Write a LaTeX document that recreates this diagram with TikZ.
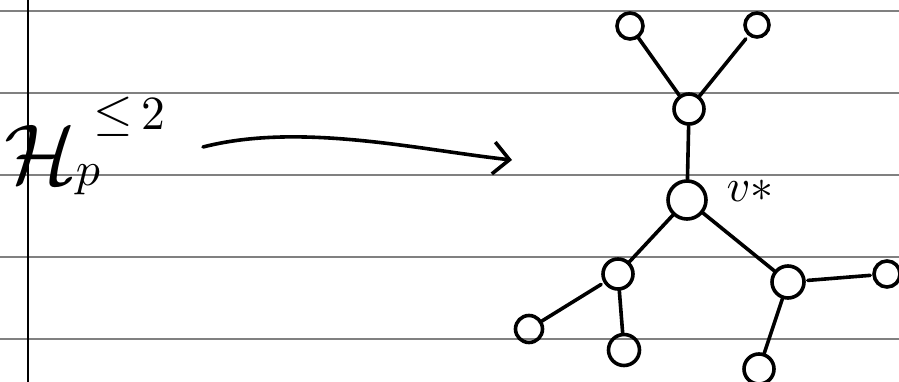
\documentclass[tikz,border=0pt]{standalone}
\usetikzlibrary{arrows.meta}
\definecolor{rule}{RGB}{128,128,128}
\definecolor{ink}{RGB}{0,0,0}
\begin{document}
\begin{tikzpicture}[x=1pt,y=-1pt,
  ruling/.style={draw=rule,line width=1.3pt},
  margin/.style={draw=ink,line width=1.2pt},
  vtx/.style={circle,draw=ink,line width=3.6pt,inner sep=0pt},
  link/.style={draw=ink,line width=3.6pt,line cap=round},
  lbl/.style={inner sep=0pt,text=ink,anchor=center}]
\useasboundingbox (0,0) rectangle (899,382);
\fill[white] (0,0) rectangle (899,382);

% notebook ruling
\foreach \yy in {11,93,175,257,339}
  \draw[ruling] (0,\yy) -- (899,\yy);
\draw[margin] (28,0) -- (28,382);

% formula H_p^{<=2}, set piece by piece
\node[lbl,scale=8.5] (hcal) at (41,154) {$\mathcal{H}$};
\node[lbl,scale=4.8] (psub) at (88,180) {$p$};
\node[lbl,scale=3.4] (bound) at (129,117)
  {$\scalebox{1.5}{$\leq$}\hspace{2.5pt}\scalebox{1.4}{$2$}$};

% arrow
\coordinate (arrS) at (203,147);
\coordinate (arrE) at (512,160);
\draw[link,-{Straight Barb[length=16pt,width=32pt,line width=3.6pt]}]
  (arrS) .. controls (300,122) and (420,150) .. (arrE);

% tree
\node[vtx,minimum size=26pt] (tl) at (630,26) {};
\node[vtx,minimum size=24pt] (tr) at (757,25) {};
\node[vtx,minimum size=30pt] (mid) at (689,109) {};
\node[vtx,minimum size=38pt] (vs) at (687,200) {};
\node[vtx,minimum size=30pt] (lm) at (618,274) {};
\node[vtx,minimum size=32pt] (rm) at (788,282) {};
\node[vtx,minimum size=26pt] (fr) at (887,274) {};
\node[vtx,minimum size=27pt] (bl) at (529,329) {};
\node[vtx,minimum size=31pt] (bm) at (624,350) {};
\node[vtx,minimum size=30pt] (br) at (759,369) {};

\node[lbl,scale=4.6] (vlab) at (750,191) {$v\ast$};

\draw[link] (tl) -- (mid);
\draw[link,shorten <=4pt] (tr) -- (mid);
\draw[link] (mid) -- (vs);
\draw[link] (vs) -- (lm);
\draw[link] (vs) -- (rm);
\draw[link,shorten <=3pt] (lm) -- (bl);
\draw[link] (lm) -- (bm);
\draw[link] (rm) -- (br);
\draw[link,shorten <=2pt,shorten >=2pt] (rm) -- (fr);
\end{tikzpicture}
\end{document}
